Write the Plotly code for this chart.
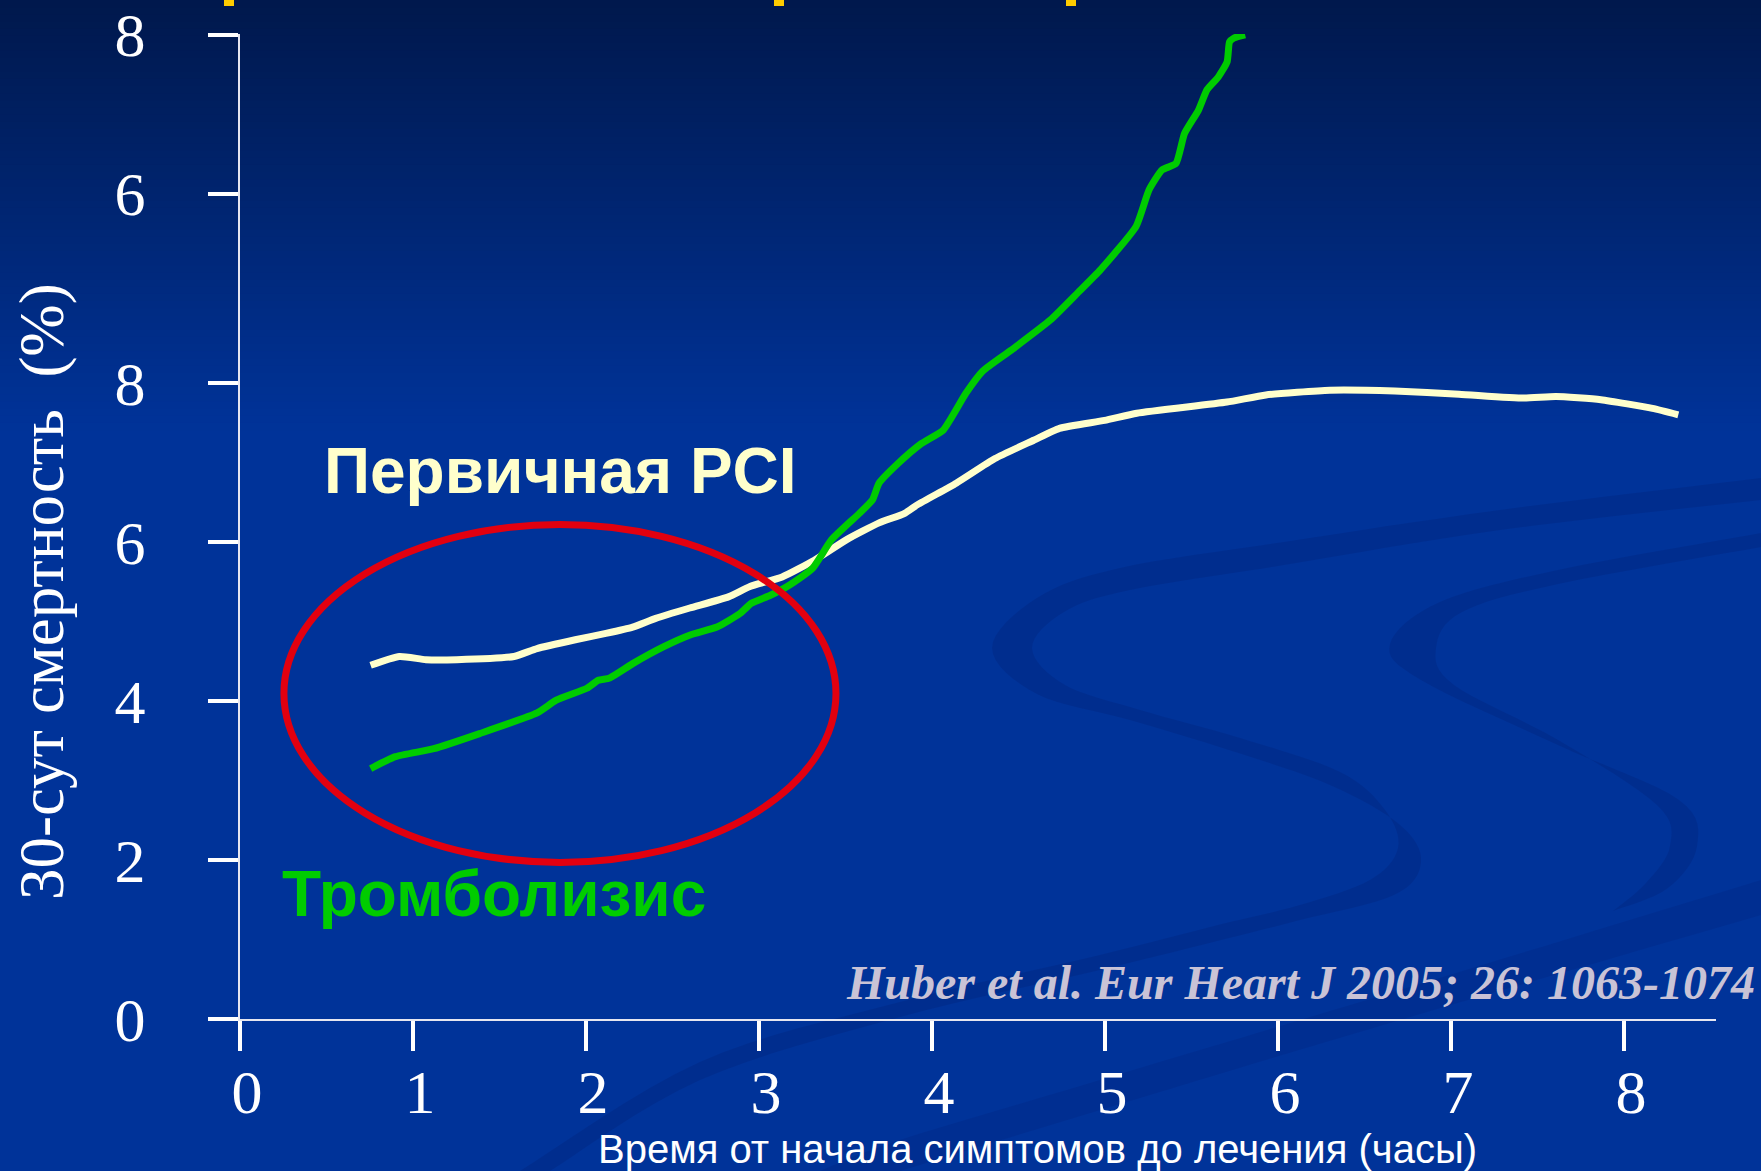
import plotly.graph_objects as go

# ---------------- data ----------------
x_tickvals = [0, 1, 2, 3, 4, 5, 6, 7, 8]
x_ticktext = ["0", "1", "2", "3", "4", "5", "6", "7", "8"]
# broken y-axis: positions on the drawn scale and the labels printed there
y_tickvals = [0, 2, 4, 6, 8, 10.38, 12.38]
y_ticktext = ["0", "2", "4", "6", "8", "6", "8"]

pci_x = [0.755, 0.921, 1.075, 1.253, 1.584, 1.717, 1.938, 2.115, 2.27, 2.403, 2.60, 2.823,
         2.948, 3.134, 3.32, 3.507, 3.694, 3.842, 3.917, 4.14, 4.364, 4.588, 4.737, 4.998,
         5.184, 5.705, 5.93, 6.30, 6.675, 7.047, 7.42, 7.606, 7.867, 8.165, 8.314]
pci_y = [4.45, 4.56, 4.52, 4.52, 4.56, 4.66, 4.77, 4.85, 4.93, 5.04, 5.17, 5.31,
         5.44, 5.56, 5.77, 6.03, 6.24, 6.36, 6.47, 6.74, 7.05, 7.28, 7.43, 7.53,
         7.62, 7.76, 7.85, 7.91, 7.90, 7.86, 7.81, 7.83, 7.79, 7.68, 7.60]

lysis_x = [0.755, 0.898, 1.12, 1.385, 1.717, 1.828, 2.005, 2.071, 2.137, 2.27, 2.447, 2.602,
           2.757, 2.89, 2.956, 3.066, 3.177, 3.31, 3.42, 3.58, 3.656, 3.694, 3.805, 3.94,
           4.066, 4.196, 4.294, 4.456, 4.683, 4.845, 4.976, 5.18, 5.255, 5.33, 5.41, 5.46,
           5.54, 5.59, 5.655, 5.706, 5.72, 5.746, 5.81]
lysis_y = [3.15, 3.30, 3.40, 3.59, 3.85, 4.01, 4.16, 4.26, 4.29, 4.47, 4.68, 4.83,
           4.93, 5.10, 5.23, 5.33, 5.46, 5.67, 6.03, 6.36, 6.53, 6.74, 6.99, 7.24,
           7.41, 7.87, 8.15, 8.41, 8.79, 9.14, 9.43, 9.97, 10.43, 10.68, 10.76, 11.14,
           11.43, 11.69, 11.85, 12.04, 12.29, 12.34, 12.38]

label_pci = "Первичная PCI"
label_lysis = "Тромболизис"
x_title = "Время от начала симптомов до лечения (часы)"
y_title = "30-сут смертность  (%)"
citation = "Huber et al. Eur Heart J 2005; 26: 1063-1074"

# ---------------- geometry helpers ----------------
W, H = 1761, 1171
L, R, T, B = 240, 45, 34, 152
PW, PH = W - L - R, H - T - B


def px(X):
    return (X - L) / PW


def py(Y):
    return (H - B - Y) / PH


def smooth(pts, k=8):
    """Catmull-Rom smoothing of a decorative outline (pixel coords)."""
    out = []
    n = len(pts)
    for i in range(n - 1):
        p0 = pts[max(i - 1, 0)]
        p1 = pts[i]
        p2 = pts[i + 1]
        p3 = pts[min(i + 2, n - 1)]
        for j in range(k):
            t = j / k
            t2, t3 = t * t, t * t * t
            out.append(tuple(0.5 * ((2 * p1[c]) + (-p0[c] + p2[c]) * t +
                                    (2 * p0[c] - 5 * p1[c] + 4 * p2[c] - p3[c]) * t2 +
                                    (-p0[c] + 3 * p1[c] - 3 * p2[c] + p3[c]) * t3)
                             for c in range(2)))
    out.append(pts[-1])
    return out


shapes = []
# vertical gradient background
top_c = (0, 24, 76)
bot_c = (0, 51, 153)
grad_end = 430
n = 60
for i in range(n):
    y0 = grad_end * i / n
    y1 = grad_end * (i + 1) / n + 1
    t = (i + 0.5) / n
    c = tuple(int(round(top_c[k] + (bot_c[k] - top_c[k]) * t)) for k in range(3))
    shapes.append(dict(type="rect", xref="paper", yref="paper", layer="below",
                       x0=px(-2), x1=px(W + 2), y0=py(y1), y1=py(y0 - (2 if i == 0 else 0)),
                       fillcolor="rgb(%d,%d,%d)" % c, line=dict(width=0)))


def ribbon(outer, inner, color):
    pts = smooth(outer) + smooth(inner)[::-1]
    d = "M " + " L ".join("%.5f,%.5f" % (px(a), py(b)) for a, b in pts) + " Z"
    return dict(type="path", xref="paper", yref="paper", layer="below", path=d,
                fillcolor=color, line=dict(width=0))


swoosh = "rgba(0,30,110,0.24)"
shapes.append(ribbon(
    [(1761, 478), (1500, 510), (1284, 542), (1120, 568), (1037, 598), (992, 648), (1037, 694),
     (1130, 720), (1229, 750), (1330, 785), (1400, 825), (1421, 862), (1394, 895), (1300, 920),
     (1229, 938), (1100, 970), (900, 1017), (700, 1080), (550, 1171)],
    [(1761, 500), (1500, 530), (1284, 565), (1130, 590), (1064, 612), (1032, 648), (1065, 685),
     (1140, 710), (1240, 738), (1340, 772), (1385, 810), (1398, 848), (1370, 880), (1300, 905),
     (1218, 925), (1100, 955), (900, 1002), (700, 1062), (520, 1171)], swoosh))
shapes.append(ribbon(
    [(1761, 533), (1558, 570), (1440, 602), (1390, 644), (1421, 680), (1558, 745), (1679, 800),
     (1697, 846), (1668, 888), (1613, 911)],
    [(1761, 547), (1558, 584), (1462, 612), (1436, 648), (1454, 685), (1558, 740), (1657, 805),
     (1670, 846), (1646, 883), (1613, 911)], swoosh))
shapes.append(ribbon(
    [(1761, 880), (1400, 990), (1100, 1080), (900, 1140), (820, 1171)],
    [(1761, 915), (1400, 1020), (1100, 1110), (900, 1171)], "rgba(0,30,110,0.18)"))

# fragments of the cut-off title at the very top
for xa, xb in [(224, 234), (774, 784), (1066, 1076)]:
    shapes.append(dict(type="rect", xref="paper", yref="paper", layer="above",
                       x0=px(xa), x1=px(xb), y0=py(6), y1=py(-1),
                       fillcolor="#ffcc00", line=dict(width=0)))

# red ellipse
shapes.append(dict(type="circle", xref="x", yref="y", layer="above",
                   x0=0.254, x1=3.445, y0=1.97, y1=6.22,
                   line=dict(color="#e2000f", width=7)))

fig = go.Figure()
fig.add_trace(go.Scatter(x=pci_x, y=pci_y, mode="lines", name=label_pci,
                         line=dict(color="#ffffcc", width=7, shape="spline", smoothing=0.5),
                         cliponaxis=False))
fig.add_trace(go.Scatter(x=lysis_x, y=lysis_y, mode="lines", name=label_lysis,
                         line=dict(color="#00cc00", width=7, shape="spline", smoothing=0.5),
                         cliponaxis=False))

serif = "Liberation Serif, Times New Roman, serif"
sans = "Liberation Sans, Arial, sans-serif"
annotations = [
    dict(text="<b>%s</b>" % label_pci, x=px(560), y=py(471), xref="paper", yref="paper",
         showarrow=False, xanchor="center", yanchor="middle",
         font=dict(family=sans, size=64, color="#ffffcc")),
    dict(text="<b>%s</b>" % label_lysis, x=px(494), y=py(894), xref="paper", yref="paper",
         showarrow=False, xanchor="center", yanchor="middle",
         font=dict(family=sans, size=64, color="#00cc00")),
    dict(text="<b><i>%s</i></b>" % citation, x=px(1757), y=py(982), xref="paper", yref="paper",
         showarrow=False, xanchor="right", yanchor="middle",
         font=dict(family=serif, size=48, color="#c9c3d6")),
    dict(text=x_title, x=px(1037), y=py(1149), xref="paper", yref="paper",
         showarrow=False, xanchor="center", yanchor="middle",
         font=dict(family=sans, size=40, color="white")),
    dict(text=y_title, x=px(42), y=py(592), xref="paper", yref="paper", textangle=-90,
         showarrow=False, xanchor="center", yanchor="middle",
         font=dict(family=serif, size=63, color="white")),
]

axis_common = dict(tickmode="array", ticks="outside", ticklen=30, tickwidth=4, tickcolor="white",
                   showline=True, linecolor="#e6e6f0", linewidth=2, showgrid=False,
                   zeroline=False, automargin=False, fixedrange=True,
                   tickfont=dict(family=serif, size=62, color="white"))

fig.update_layout(
    width=W, height=H, autosize=False,
    margin=dict(l=L, r=R, t=T, b=B, pad=0, autoexpand=False),
    paper_bgcolor="rgb(0,51,153)", plot_bgcolor="rgba(0,0,0,0)",
    showlegend=False, shapes=shapes, annotations=annotations,
    xaxis=dict(range=[0, 8.532], tickvals=x_tickvals, ticktext=x_ticktext,
               ticklabelstandoff=-12, ticklabelshift=7, **axis_common),
    yaxis=dict(range=[0, 12.39], tickvals=y_tickvals, ticktext=y_ticktext,
               ticklabelstandoff=50, **axis_common),
)

fig.write_html("out.html", post_script="document.body.style.margin='0';",
               config={"displayModeBar": False})
